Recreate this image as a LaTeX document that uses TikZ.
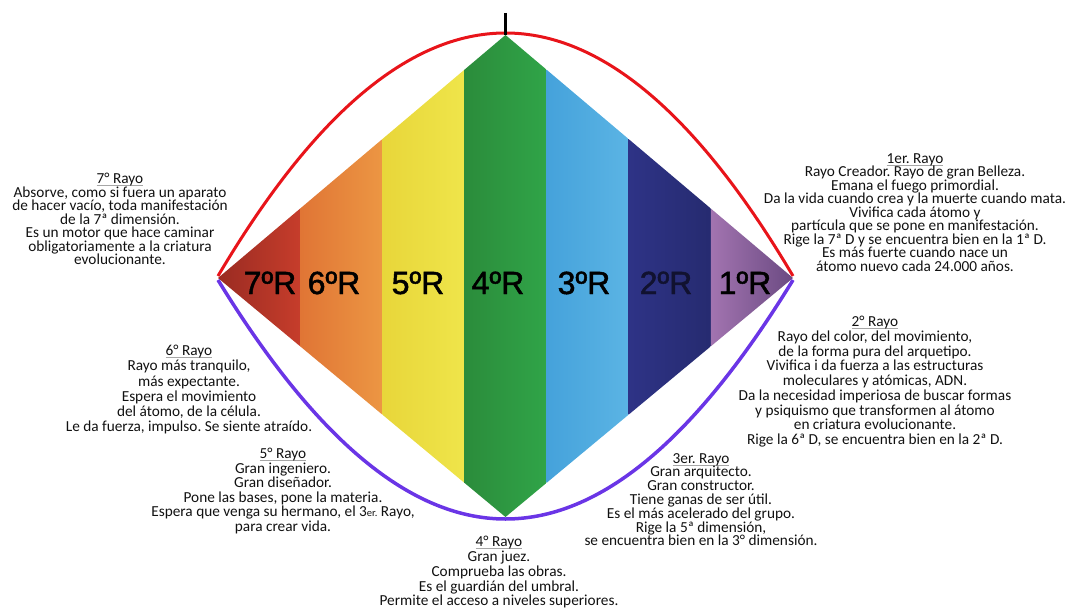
\documentclass[tikz,border=0pt]{standalone}
\usepackage{fontspec}
\setmainfont{Carlito}
\newfontfamily\labfont[FakeBold=1.5]{Liberation Sans}
\lineskiplimit=-30pt
\frenchspacing
\definecolor{rA}{HTML}{9A2B22}\definecolor{rB}{HTML}{C63D2B}
\definecolor{oA}{HTML}{E07535}\definecolor{oB}{HTML}{EC9643}
\definecolor{yA}{HTML}{E8D63A}\definecolor{yB}{HTML}{EFE54A}
\definecolor{gA}{HTML}{2B8C3B}\definecolor{gB}{HTML}{30A448}
\definecolor{cA}{HTML}{45A2DB}\definecolor{cB}{HTML}{5BB4E4}
\definecolor{nA}{HTML}{2E3386}\definecolor{nB}{HTML}{262B70}
\definecolor{pA}{HTML}{A274B0}\definecolor{pB}{HTML}{6B4A82}
\definecolor{redline}{HTML}{E8141A}
\definecolor{violetline}{HTML}{6A35E6}
\definecolor{navytext}{HTML}{111230}
\definecolor{txtcol}{HTML}{111111}
\newsavebox\rtbox
\newcommand\rtitle[1]{\sbox\rtbox{#1}\rlap{\color{black!35}\rule[-2.4pt]{\wd\rtbox}{0.6pt}}\usebox\rtbox}
\begin{document}
\begin{tikzpicture}[x=1pt,y=-1pt,
  txt/.style={align=center, inner sep=0pt, anchor=north, text=txtcol,
    font=\fontsize{15.3}{#1}\selectfont},
  lab/.style={anchor=base, inner sep=0pt, font=\labfont\fontsize{32}{32}\selectfont},
  band/.style 2 args={left color=#1, right color=#2, draw=none}]
\useasboundingbox (0,0) rectangle (1070,612);
\coordinate (L) at (218,278);
\coordinate (T) at (505.5,35);
\coordinate (R) at (793,278);
\coordinate (B) at (505.5,517);
\coordinate (tick) at (505.5,13);
\coordinate (Lr) at (218,276);
\coordinate (Rr) at (793,276);
\coordinate (Lv) at (218,280);
\coordinate (Rv) at (793,280);
\coordinate (Bv) at (505.5,519);
% bands
\begin{scope}
\clip (L) -- (T) -- (R) -- (B) -- cycle;
\shade[band={rA}{rB}] (218,20) rectangle (300.1,530);
\shade[band={oA}{oB}] (300.1,20) rectangle (382.3,530);
\shade[band={yA}{yB}] (382.3,20) rectangle (464.4,530);
\shade[band={gA}{gB}] (464.4,20) rectangle (546.6,530);
\shade[band={cA}{cB}] (546.6,20) rectangle (628.7,530);
\shade[band={nA}{nB}] (628.7,20) rectangle (710.9,530);
\shade[band={pA}{pB}] (710.9,20) rectangle (793,530);
\end{scope}
% labels
\node[lab] (l7) at (270,294) {7ºR};
\node[lab] (l6) at (334,294) {6ºR};
\node[lab] (l5) at (418,294) {5ºR};
\node[lab] (l4) at (498,294) {4ºR};
\node[lab] (l3) at (584,294) {3ºR};
\node[lab, text=navytext] (l2) at (666,294) {2ºR};
\node[lab] (l1) at (745,294) {1ºR};
% curves
\draw[redline, line width=3pt] (Lr) .. controls (409.67,-48) and (601.33,-48) .. (Rr);
\draw[violetline, line width=3.5pt] (Lv) .. controls (310,430) and (405,519) .. (Bv)
  .. controls (606,519) and (701,430) .. (Rv);
\draw[line width=3pt] (tick) -- (T);
% texts
\node[txt=13.5] (t7) at (120,173) {\rtitle{7° Rayo}\\
Absorve, como si fuera un aparato\\
de hacer vacío, toda manifestación\\
de la 7ª dimensión.\\
Es un motor que hace caminar\\
obligatoriamente a la criatura\\
evolucionante.};
\node[txt=13.5] (t1) at (915,153) {\rtitle{1er. Rayo}\\
Rayo Creador. Rayo de gran Belleza.\\
Emana el fuego primordial.\\
Da la vida cuando crea y la muerte cuando mata.\\
Vivifica cada átomo y\\
partícula que se pone en manifestación.\\
Rige la 7ª D y se encuentra bien en la 1ª D.\\
Es más fuerte cuando nace un\\
átomo nuevo cada 24.000 años.};
\node[txt=15.2] (t6) at (189,345) {\rtitle{6° Rayo}\\
Rayo más tranquilo,\\
más expectante.\\
Espera el movimiento\\
del átomo, de la célula.\\
Le da fuerza, impulso. Se siente atraído.};
\node[txt=14.75] (t2) at (875,316) {\rtitle{2° Rayo}\\
Rayo del color, del movimiento,\\
de la forma pura del arquetipo.\\
Vivifica i da fuerza a las estructuras\\
moleculares y atómicas, ADN.\\
Da la necesidad imperiosa de buscar formas\\
y psiquismo que transformen al átomo\\
en criatura evolucionante.\\
Rige la 6ª D, se encuentra bien en la 2ª D.};
\node[txt=14.5] (t5) at (283,448) {\rtitle{5° Rayo}\\
Gran ingeniero.\\
Gran diseñador.\\
Pone las bases, pone la materia.\\
Espera que venga su hermano, el 3{\fontsize{10.5}{10}\selectfont er.} Rayo,\\
para crear vida.};
\node[txt=13.8] (t3) at (701,453) {\rtitle{3er. Rayo}\\
Gran arquitecto.\\
Gran constructor.\\
Tiene ganas de ser útil.\\
Es el más acelerado del grupo.\\
Rige la 5ª dimensión,\\
se encuentra bien en la 3° dimensión.};
\node[txt=14.8] (t4) at (499,536) {\rtitle{4° Rayo}\\
Gran juez.\\
Comprueba las obras.\\
Es el guardián del umbral.\\
Permite el acceso a niveles superiores.};
\end{tikzpicture}
\end{document}
